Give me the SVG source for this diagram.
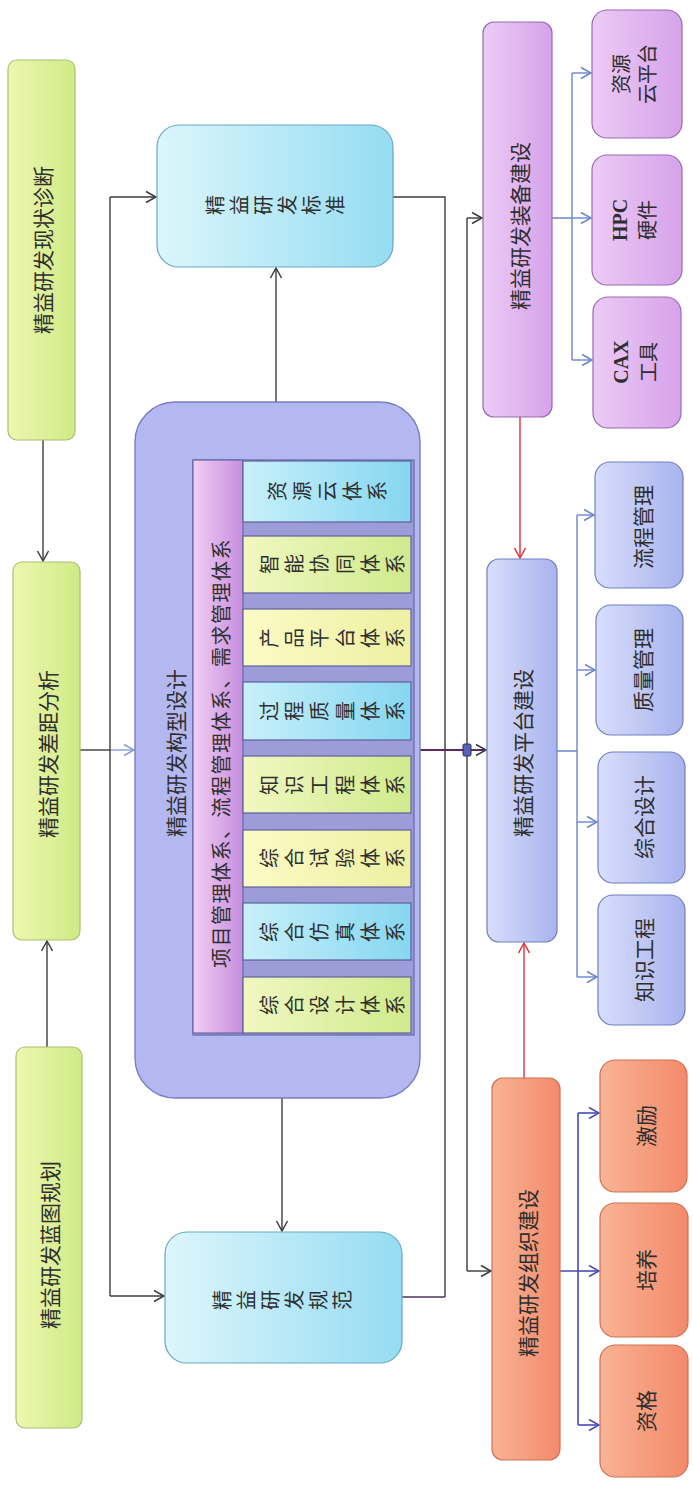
<svg xmlns="http://www.w3.org/2000/svg" width="693" height="1485" viewBox="0 0 693 1485">
<style>
.t{font-family:"Noto Sans CJK SC","Noto Sans",sans-serif;font-size:21px;fill:#2e2e2e;text-anchor:middle;dominant-baseline:central}
.s{font-size:19px}
.c{font-size:20px}
.lat{font-family:"Liberation Serif","Noto Sans CJK SC",serif;font-weight:bold}
.ln{fill:none;stroke:#3c3c3c;stroke-width:1.4}
.bl{fill:none;stroke:#6a86cc;stroke-width:1.4}
.pu{fill:none;stroke:#4a4ab8;stroke-width:1.6}
.rd{fill:none;stroke:#e0303a;stroke-width:1.4}
.grn{fill:url(#gG);stroke:#a8c070;stroke-width:1.2}
.cy{fill:url(#gC);stroke:#68a8c4;stroke-width:1.2}
.vio{fill:url(#gV);stroke:#9a6ab0;stroke-width:1.2}
.pl{fill:url(#gP);stroke:#7080c0;stroke-width:1.2}
.or{fill:url(#gO);stroke:#d07050;stroke-width:1.2}
.sc{fill:url(#sC);stroke:#60609c;stroke-width:1.2}
.sy{fill:url(#sY);stroke:#60609c;stroke-width:1.2}
.sg{fill:url(#sG);stroke:#60609c;stroke-width:1.2}
</style>
<defs>
<linearGradient id="gG" x1="0" y1="0" x2="1" y2="0"><stop offset="0" stop-color="#eef7b0"/><stop offset="1" stop-color="#cfea86"/></linearGradient>
<linearGradient id="gC" x1="0" y1="0" x2="1" y2="0"><stop offset="0" stop-color="#dcf6fb"/><stop offset="1" stop-color="#96dcf2"/></linearGradient>
<linearGradient id="gV" x1="0" y1="0" x2="1" y2="0"><stop offset="0" stop-color="#eccbf5"/><stop offset="1" stop-color="#d6a2ea"/></linearGradient>
<linearGradient id="gP" x1="0" y1="0" x2="1" y2="0"><stop offset="0" stop-color="#d8defb"/><stop offset="1" stop-color="#a9b3ee"/></linearGradient>
<linearGradient id="gO" x1="0" y1="0" x2="1" y2="0"><stop offset="0" stop-color="#f9b396"/><stop offset="1" stop-color="#f38a6a"/></linearGradient>
<linearGradient id="gK" x1="0" y1="0" x2="1" y2="0"><stop offset="0" stop-color="#f2cdf2"/><stop offset="1" stop-color="#c68ede"/></linearGradient>
<linearGradient id="sC" x1="0" y1="0" x2="1" y2="0"><stop offset="0" stop-color="#c8f0fa"/><stop offset="1" stop-color="#86d6f0"/></linearGradient>
<linearGradient id="sY" x1="0" y1="0" x2="1" y2="0"><stop offset="0" stop-color="#fbfbc6"/><stop offset="1" stop-color="#eef0a2"/></linearGradient>
<linearGradient id="sG" x1="0" y1="0" x2="1" y2="0"><stop offset="0" stop-color="#f0f8c0"/><stop offset="1" stop-color="#d0ea8e"/></linearGradient>
<marker id="aD" markerUnits="userSpaceOnUse" markerWidth="14" markerHeight="14" refX="12" refY="7" orient="auto"><path d="M2,1.5 L12,7 L2,12.5" fill="none" stroke="#3c3c3c" stroke-width="1.5"/></marker>
<marker id="aB" markerUnits="userSpaceOnUse" markerWidth="14" markerHeight="14" refX="12" refY="7" orient="auto"><path d="M2,1.5 L12,7 L2,12.5" fill="none" stroke="#6a86cc" stroke-width="1.5"/></marker>
<marker id="aL" markerUnits="userSpaceOnUse" markerWidth="14" markerHeight="14" refX="12" refY="7" orient="auto"><path d="M2,1.5 L12,7 L2,12.5" fill="none" stroke="#8a9ad4" stroke-width="1.5"/></marker>
<marker id="aU" markerUnits="userSpaceOnUse" markerWidth="14" markerHeight="14" refX="12" refY="7" orient="auto"><path d="M2,1.5 L12,7 L2,12.5" fill="none" stroke="#4a4ab8" stroke-width="1.5"/></marker>
<marker id="aR" markerUnits="userSpaceOnUse" markerWidth="14" markerHeight="14" refX="12" refY="7" orient="auto"><path d="M2,1.5 L12,7 L2,12.5" fill="none" stroke="#e0303a" stroke-width="1.5"/></marker>
</defs>
<rect width="693" height="1485" fill="#ffffff"/>

<g id="connectors">
<path class="ln" d="M43,440 V561" marker-end="url(#aD)"/>
<path class="ln" d="M47,1047 V941" marker-end="url(#aD)"/>
<path class="ln" d="M80,750 H110"/>
<path fill="none" stroke="#8a9ad4" stroke-width="1.4" d="M110,750 H134" marker-end="url(#aL)"/>
<path class="ln" d="M110,197 V1296"/>
<path class="ln" d="M110,197 H156" marker-end="url(#aD)"/>
<path class="ln" d="M110,1296 H164" marker-end="url(#aD)"/>
<path class="ln" d="M276,402 V268" marker-end="url(#aD)"/>
<path class="ln" d="M282,1098 V1231" marker-end="url(#aD)"/>
<path class="ln" d="M393,197 H445 V1297"/>
<path fill="none" stroke="#503060" stroke-width="1.4" d="M402,1297 H445"/>
<path class="ln" d="M467,218 V1271"/>
<path class="ln" d="M467,218 H482" marker-end="url(#aD)"/>
<path class="ln" d="M467,1271 H491" marker-end="url(#aD)"/>
<path fill="none" stroke="#5a2a60" stroke-width="1.8" d="M420,750 H486" marker-end="url(#aD)"/>
<rect x="463" y="744" width="8" height="12" rx="1.5" fill="#5a62b8" stroke="#2a2a60" stroke-width="1"/>
<path class="rd" d="M520,417 V558" marker-end="url(#aR)"/>
<path class="rd" d="M524,1078 V943" marker-end="url(#aR)"/>
<path class="bl" d="M552,218 H572 M572,73 V360"/>
<path class="bl" d="M572,73 H591" marker-end="url(#aB)"/>
<path class="bl" d="M572,218 H591" marker-end="url(#aB)"/>
<path class="bl" d="M572,360 H592" marker-end="url(#aB)"/>
<path class="bl" d="M557,751 H577 M577,515 V977"/>
<path class="bl" d="M577,515 H594" marker-end="url(#aB)"/>
<path class="bl" d="M577,670 H595" marker-end="url(#aB)"/>
<path class="bl" d="M577,822 H597" marker-end="url(#aB)"/>
<path class="bl" d="M577,977 H597" marker-end="url(#aB)"/>
<path class="pu" d="M560,1271 H578 M578,1113 V1425"/>
<path class="pu" d="M578,1113 H599" marker-end="url(#aU)"/>
<path class="pu" d="M578,1271 H599" marker-end="url(#aU)"/>
<path class="pu" d="M578,1425 H599" marker-end="url(#aU)"/>
</g>

<g id="n-diagnose"><rect class="grn" x="8" y="60" width="67" height="380" rx="9"/><text class="t" transform="translate(42,250) rotate(-90)">精益研发现状诊断</text></g>
<g id="n-gap"><rect class="grn" x="13" y="562" width="67" height="378" rx="9"/><text class="t" transform="translate(47,754) rotate(-90)">精益研发差距分析</text></g>
<g id="n-blueprint"><rect class="grn" x="16" y="1047" width="66" height="381" rx="9"/><text class="t" transform="translate(49,1245) rotate(-90)">精益研发蓝图规划</text></g>

<g id="n-standard"><rect class="cy" x="157" y="125" width="236" height="142" rx="22"/>
<text class="t c" transform="translate(274,205) rotate(-90)"><tspan x="0" y="-60">精</tspan><tspan x="0" y="-36">益</tspan><tspan x="0" y="-12">研</tspan><tspan x="0" y="12">发</tspan><tspan x="0" y="36">标</tspan><tspan x="0" y="60">准</tspan></text></g>
<g id="n-spec"><rect class="cy" x="165" y="1232" width="237" height="131" rx="22"/>
<text class="t c" transform="translate(281,1300) rotate(-90)"><tspan x="0" y="-60">精</tspan><tspan x="0" y="-36">益</tspan><tspan x="0" y="-12">研</tspan><tspan x="0" y="12">发</tspan><tspan x="0" y="36">规</tspan><tspan x="0" y="60">范</tspan></text></g>

<g id="n-config">
<rect x="135" y="402" width="285" height="696" rx="40" fill="#b4b8f0" stroke="#7a7cc4" stroke-width="1.4"/>
<text class="t" transform="translate(175,753) rotate(-90)">精益研发构型设计</text>
<rect x="193" y="460" width="221" height="575" fill="#9c9cd8" stroke="#6868a8" stroke-width="1.2"/>
<rect x="193" y="460" width="50" height="573" fill="url(#gK)" stroke="#6868a8" stroke-width="1.2"/>
<text class="t" style="font-size:20px;letter-spacing:1.5px" transform="translate(220,753) rotate(-90)">项目管理体系、流程管理体系、需求管理体系</text>
</g>
<g id="s-cloud"><rect class="sc" x="243" y="461" width="168" height="61"/><text class="t c" transform="translate(326,491) rotate(-90)"><tspan x="0" y="-50">资</tspan><tspan x="0" y="-25">源</tspan><tspan x="0" y="0">云</tspan><tspan x="0" y="25">体</tspan><tspan x="0" y="50">系</tspan></text></g>
<g id="s-collab"><rect class="sg" x="243" y="536" width="168" height="57"/><text class="t c" transform="translate(331,564) rotate(-90)"><tspan x="0" y="-63">智</tspan><tspan x="0" y="-38">能</tspan><tspan x="0" y="-13">协</tspan><tspan x="0" y="13">同</tspan><tspan x="0" y="38">体</tspan><tspan x="0" y="63">系</tspan></text></g>
<g id="s-product"><rect class="sy" x="243" y="609" width="168" height="57"/><text class="t c" transform="translate(331,638) rotate(-90)"><tspan x="0" y="-63">产</tspan><tspan x="0" y="-38">品</tspan><tspan x="0" y="-13">平</tspan><tspan x="0" y="13">台</tspan><tspan x="0" y="38">体</tspan><tspan x="0" y="63">系</tspan></text></g>
<g id="s-quality"><rect class="sc" x="243" y="682" width="168" height="58"/><text class="t c" transform="translate(331,711) rotate(-90)"><tspan x="0" y="-63">过</tspan><tspan x="0" y="-38">程</tspan><tspan x="0" y="-13">质</tspan><tspan x="0" y="13">量</tspan><tspan x="0" y="38">体</tspan><tspan x="0" y="63">系</tspan></text></g>
<g id="s-knowledge"><rect class="sg" x="243" y="756" width="168" height="57"/><text class="t c" transform="translate(331,785) rotate(-90)"><tspan x="0" y="-63">知</tspan><tspan x="0" y="-38">识</tspan><tspan x="0" y="-13">工</tspan><tspan x="0" y="13">程</tspan><tspan x="0" y="38">体</tspan><tspan x="0" y="63">系</tspan></text></g>
<g id="s-test"><rect class="sy" x="243" y="830" width="168" height="57"/><text class="t c" transform="translate(331,858) rotate(-90)"><tspan x="0" y="-63">综</tspan><tspan x="0" y="-38">合</tspan><tspan x="0" y="-13">试</tspan><tspan x="0" y="13">验</tspan><tspan x="0" y="38">体</tspan><tspan x="0" y="63">系</tspan></text></g>
<g id="s-sim"><rect class="sc" x="243" y="903" width="168" height="57"/><text class="t c" transform="translate(331,932) rotate(-90)"><tspan x="0" y="-63">综</tspan><tspan x="0" y="-38">合</tspan><tspan x="0" y="-13">仿</tspan><tspan x="0" y="13">真</tspan><tspan x="0" y="38">体</tspan><tspan x="0" y="63">系</tspan></text></g>
<g id="s-design"><rect class="sg" x="243" y="977" width="168" height="56"/><text class="t c" transform="translate(331,1005) rotate(-90)"><tspan x="0" y="-63">综</tspan><tspan x="0" y="-38">合</tspan><tspan x="0" y="-13">设</tspan><tspan x="0" y="13">计</tspan><tspan x="0" y="38">体</tspan><tspan x="0" y="63">系</tspan></text></g>

<g id="n-equip"><rect class="vio" x="483" y="22" width="69" height="395" rx="11"/><text class="t" transform="translate(519,226) rotate(-90)">精益研发装备建设</text></g>
<g id="n-platform"><rect class="pl" x="487" y="559" width="70" height="383" rx="12"/><text class="t" transform="translate(522,753) rotate(-90)">精益研发平台建设</text></g>
<g id="n-org"><rect class="or" x="492" y="1078" width="68" height="382" rx="11"/><text class="t" transform="translate(527,1273) rotate(-90)">精益研发组织建设</text></g>

<g id="c-cloud"><rect class="vio" x="592" y="10" width="90" height="128" rx="15"/><text class="t c" transform="translate(633,74) rotate(-90)"><tspan x="0" y="-13">资源</tspan><tspan x="0" y="13">云平台</tspan></text></g>
<g id="c-hpc"><rect class="vio" x="592" y="155" width="90" height="130" rx="15"/><text class="t c" transform="translate(633,220) rotate(-90)"><tspan class="lat" x="0" y="-13">HPC</tspan><tspan x="0" y="13">硬件</tspan></text></g>
<g id="c-cax"><rect class="vio" x="593" y="297" width="88" height="131" rx="15"/><text class="t c" transform="translate(634,362) rotate(-90)"><tspan class="lat" x="0" y="-13">CAX</tspan><tspan x="0" y="13">工具</tspan></text></g>

<g id="c-flow"><rect class="pl" x="595" y="462" width="88" height="126" rx="15"/><text class="t" transform="translate(642,527) rotate(-90)">流程管理</text></g>
<g id="c-qual"><rect class="pl" x="596" y="605" width="87" height="130" rx="15"/><text class="t" transform="translate(642,670) rotate(-90)">质量管理</text></g>
<g id="c-des"><rect class="pl" x="598" y="752" width="87" height="131" rx="15"/><text class="t" transform="translate(643,817) rotate(-90)">综合设计</text></g>
<g id="c-know"><rect class="pl" x="598" y="895" width="87" height="130" rx="15"/><text class="t" transform="translate(643,960) rotate(-90)">知识工程</text></g>

<g id="c-incent"><rect class="or" x="600" y="1060" width="87" height="132" rx="15"/><text class="t" transform="translate(645,1126) rotate(-90)">激励</text></g>
<g id="c-train"><rect class="or" x="600" y="1203" width="88" height="134" rx="15"/><text class="t" transform="translate(645,1270) rotate(-90)">培养</text></g>
<g id="c-qualif"><rect class="or" x="600" y="1345" width="88" height="132" rx="15"/><text class="t" transform="translate(645,1411) rotate(-90)">资格</text></g>
</svg>
